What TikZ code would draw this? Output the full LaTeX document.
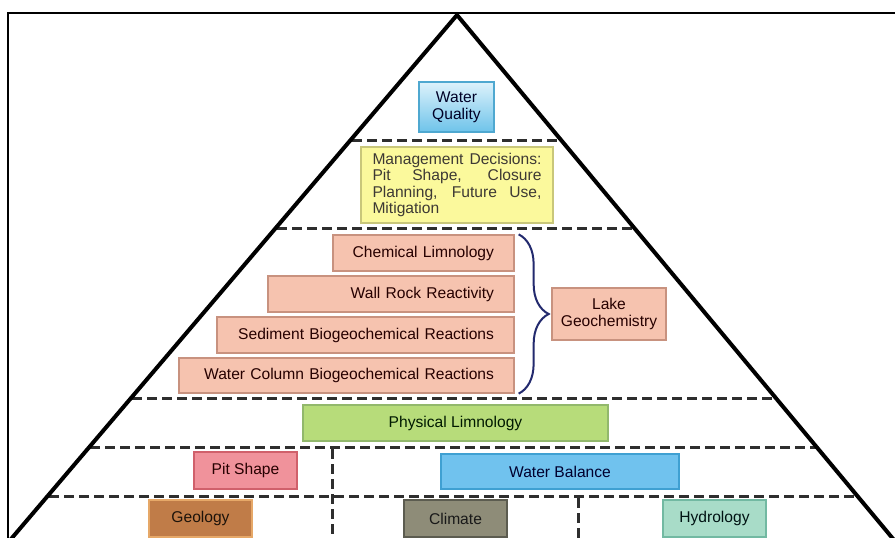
\documentclass[tikz,border=0pt]{standalone}
\usepackage{fontspec}
\setmainfont{Liberation Sans}
\usetikzlibrary{decorations.pathreplacing}
\definecolor{dashc}{HTML}{2E2E2E}
\definecolor{wqtop}{HTML}{DDF2FB}
\definecolor{wqbot}{HTML}{6EC3EA}
\definecolor{wqdraw}{HTML}{4FA8D0}
\definecolor{mgfill}{HTML}{FBF99C}
\definecolor{mgdraw}{HTML}{C9C77A}
\definecolor{slfill}{HTML}{F6C3AF}
\definecolor{sldraw}{HTML}{C8927F}
\definecolor{phfill}{HTML}{B7DC7A}
\definecolor{phdraw}{HTML}{92B86C}
\definecolor{ptfill}{HTML}{F0929B}
\definecolor{ptdraw}{HTML}{D0606B}
\definecolor{wbfill}{HTML}{70C2EE}
\definecolor{wbdraw}{HTML}{3FA0D2}
\definecolor{gefill}{HTML}{C07C48}
\definecolor{gedraw}{HTML}{E6A868}
\definecolor{clfill}{HTML}{8E8C78}
\definecolor{cldraw}{HTML}{5C5C50}
\definecolor{hyfill}{HTML}{A8DCC8}
\definecolor{hydraw}{HTML}{72B9A2}
\definecolor{bracec}{HTML}{232A6E}
\definecolor{txtc}{HTML}{333333}
\newcommand\bxfont{\fontsize{15.6}{17}\selectfont}
\tikzset{
  bx/.style={draw, line width=1.3pt, inner sep=0pt, font=\bxfont, text=txtc, align=center},
  salmon/.style={bx, fill=slfill, draw=sldraw, text=black!75!red!60!black},
  rightbox/.style={salmon, align=right, inner xsep=5pt, text width=#1-10pt, minimum width=#1, execute at end node={\hspace*{15pt}}},
  divider/.style={draw=dashc, line width=3pt, dash pattern=on 10pt off 5pt},
  sidewall/.style={draw=black, line width=4pt},
}
\begin{document}
\begin{tikzpicture}[x=1pt,y=-1pt]
\useasboundingbox (0,0) rectangle (895,538);
\clip (0,0) rectangle (895,538);
\fill[white] (0,0) rectangle (895,538);
% frame
\draw[line width=2.5pt] (8,560) -- (8,13) -- (910,13);
% dividers
\draw[divider] (352,140) -- (560,140);
\draw[divider] (277,228) -- (634,228);
\draw[divider] (132,398) -- (776,398);
\draw[divider] (90,447) -- (817,447);
\draw[divider] (49,496) -- (858,496);
\draw[divider] (332,449) -- (332,545);
\draw[divider] (578,498) -- (578,545);
% pyramid
\coordinate (apex) at (457,15);
\coordinate (bl) at (0,552);
\coordinate (br) at (904,552);
\draw[sidewall, line join=miter] (bl) -- (apex) -- (br);
% boxes
\node[bx, top color=wqtop, bottom color=wqbot, draw=wqdraw, text=black!70!blue!50!black, minimum width=75pt, minimum height=50pt] (wq) at (456.5,107) {Water\\Quality};
\node[bx, fill=mgfill, draw=mgdraw, text=black!80!yellow!60!black, minimum width=192pt, minimum height=76pt, text width=169pt, inner xsep=11.5pt, align=justify, font=\fontsize{15.6}{16.3}\selectfont] (mg) at (457,185) {Management Decisions:\linebreak Pit Shape, Closure\linebreak Planning, Future Use,\linebreak Mitigation};
\node[rightbox=181pt, minimum height=36pt] (chem) at (423.5,253) {Chemical Limnology};
\node[rightbox=246pt, minimum height=36pt] (wall) at (391,294) {Wall Rock Reactivity};
\node[rightbox=297pt, minimum height=36pt] (sed) at (365.5,335) {Sediment Biogeochemical Reactions};
\node[rightbox=335pt, minimum height=35pt] (wcol) at (346.5,375.5) {Water Column Biogeochemical Reactions};
\node[salmon, minimum width=114pt, minimum height=52pt] (lake) at (609,314) {Lake\\Geochemistry};
\draw[bracec, line width=2pt, decorate, decoration={brace, amplitude=30pt}] ([xshift=4pt]chem.north east) -- ([xshift=4pt]wcol.south east);
\node[bx, fill=phfill, draw=phdraw, text=black!80!green!50!black, minimum width=305pt, minimum height=36pt] (phys) at (455.5,423) {Physical Limnology};
\node[bx, fill=ptfill, draw=ptdraw, text=black!75!red!60!black, minimum width=103pt, minimum height=37pt] (pit) at (245.5,470.5) {Pit Shape};
\node[bx, fill=wbfill, draw=wbdraw, text=black!70!blue!60!black, minimum width=238pt, minimum height=35pt] (wb) at (560,471.5) {Water Balance};
\node[bx, fill=gefill, draw=gedraw, text=black!85!brown, minimum width=103pt, minimum height=37pt] (geo) at (200.5,518.5) {Geology};
\node[bx, fill=clfill, draw=cldraw, text=black!90, minimum width=103pt, minimum height=37pt] (clim) at (455.5,518.5) {Climate};
\node[bx, fill=hyfill, draw=hydraw, text=black!75!teal!60!black, minimum width=103pt, minimum height=37pt] (hyd) at (714.5,518.5) {Hydrology};
\end{tikzpicture}
\end{document}
